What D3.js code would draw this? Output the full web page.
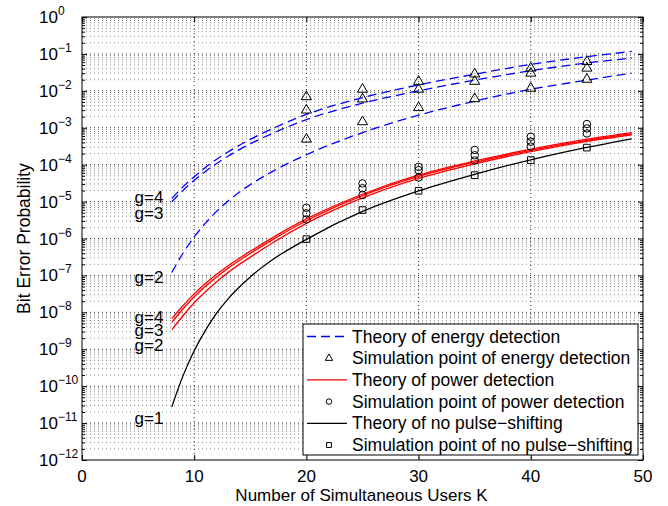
<!DOCTYPE html>
<html>
<head>
<meta charset="utf-8">
<script src="https://cdn.jsdelivr.net/npm/d3@7"></script>
<style>
  body { margin: 0; background: #fff; }
  svg { font-family: "Liberation Sans", Arial, sans-serif; }
</style>
</head>
<body>
<div id="chart"></div>
<script>
// theory curves, sampled at these K
const K = [8, 9, 10, 11, 12, 13, 15, 17, 20, 25, 30, 35, 40, 45, 49];
const energyG4 = [1.22e-5, 2.5e-5, 4.73e-5, 8.37e-5, 1.4e-4, 2.2e-4, 4.84e-4, 9.55e-4, 2.29e-3, 6.53e-3, 1.45e-2, 2.82e-2, 5.19e-2, 8.41e-2, 0.117];
const energyG3 = [9.9e-6, 2.0e-5, 3.76e-5, 6.57e-5, 1.08e-4, 1.69e-4, 3.67e-4, 7.08e-4, 1.66e-3, 4.62e-3, 1.0e-2, 1.95e-2, 3.5e-2, 5.69e-2, 7.76e-2];
const energyG2 = [1.2e-7, 3.98e-7, 1.1e-6, 2.6e-6, 5.43e-6, 1.02e-5, 2.88e-5, 6.6e-5, 1.86e-4, 7.4e-4, 2.19e-3, 5.25e-3, 1.1e-2, 1.95e-2, 3.02e-2];
const powerG4 = [6.76e-9, 1.51e-8, 3.16e-8, 6.0e-8, 1.07e-7, 1.8e-7, 4.52e-7, 1.06e-6, 3.39e-6, 1.58e-5, 5.25e-5, 1.26e-4, 2.63e-4, 4.9e-4, 7.4e-4];
const powerG3 = [5.37e-9, 1.23e-8, 2.63e-8, 5.07e-8, 9.1e-8, 1.55e-7, 3.94e-7, 9.3e-7, 3.02e-6, 1.45e-5, 4.79e-5, 1.16e-4, 2.45e-4, 4.57e-4, 6.9e-4];
const powerG2 = [3.39e-9, 8.1e-9, 1.82e-8, 3.63e-8, 6.76e-8, 1.19e-7, 3.13e-7, 7.7e-7, 2.57e-6, 1.26e-5, 4.27e-5, 1.05e-4, 2.24e-4, 4.27e-4, 6.46e-4];
const noShift = [2.75e-11, 1.9e-10, 9.1e-10, 3.24e-9, 9.5e-9, 2.29e-8, 9.1e-8, 2.69e-7, 9.5e-7, 5.4e-6, 1.95e-5, 5.5e-5, 1.35e-4, 2.92e-4, 5.0e-4];

// simulation points
const simK = [20, 25, 30, 35, 40, 45];
const simEnergyG4 = [6.9e-3, 1.1e-2, 1.8e-2, 2.85e-2, 4.1e-2, 6.2e-2];
const simEnergyG3 = [3.0e-3, 6.0e-3, 1.1e-2, 1.8e-2, 3.0e-2, 4.1e-2];
const simEnergyG2 = [4.9e-4, 1.45e-3, 3.5e-3, 6.1e-3, 1.17e-2, 2.05e-2];
const simPowerG4 = [6.8e-6, 3.1e-5, 8.7e-5, 2.5e-4, 5.7e-4, 1.26e-3];
const simPowerG3 = [4.8e-6, 2.3e-5, 7.1e-5, 1.8e-4, 4.2e-4, 9.6e-4];
const simPowerG2 = [3.3e-6, 1.5e-5, 4.5e-5, 1.3e-4, 3.1e-4, 7.0e-4];
const simNoShift = [9.6e-7, 5.9e-6, 1.96e-5, 5.2e-5, 1.33e-4, 2.9e-4];

// g labels at the left end of the curves
const gLabels = ["g=4", "g=3", "g=2", "g=4", "g=3", "g=2", "g=1"];
const gLabelAt = [1.35e-5, 4.9e-6, 9.1e-8, 7.6e-9, 3.3e-9, 1.29e-9, 1.35e-11];

const xTicks = [0, 10, 20, 30, 40, 50];
const yExp = d3.range(-12, 1);

const legendLabels = [
  "Theory of energy detection",
  "Simulation point of energy detection",
  "Theory of power detection",
  "Simulation point of power detection",
  "Theory of no pulse\u2212shifting",
  "Simulation point of no pulse\u2212shifting"
];

const margin = {top: 17, right: 25, bottom: 46, left: 82},
    width = 668 - margin.left - margin.right,
    height = 506 - margin.top - margin.bottom;

const svg = d3.select("#chart")
  .append("svg")
    .attr("width", 668)
    .attr("height", 506)
  .append("g")
    .attr("transform", `translate(${margin.left}, ${margin.top})`);

const x = d3.scaleLinear().domain([0, 50]).range([0, width]);
const y = d3.scaleLog().domain([1e-12, 1]).range([height, 0]);

// grid
const minorVals = [];
yExp.slice(0, -1).forEach(e => { for (let k = 2; k <= 9; k++) minorVals.push(k * Math.pow(10, e)); });

svg.append("g").selectAll("line")
  .data(minorVals)
  .join("line")
    .attr("x1", 0).attr("x2", width)
    .attr("y1", d => y(d)).attr("y2", d => y(d))
    .attr("stroke", "#8a8a8a")
    .attr("stroke-dasharray", "1,3");

svg.append("g").selectAll("line")
  .data(yExp.slice(1, -1))
  .join("line")
    .attr("x1", 0).attr("x2", width)
    .attr("y1", d => y(Math.pow(10, d))).attr("y2", d => y(Math.pow(10, d)))
    .attr("stroke", "#333")
    .attr("stroke-dasharray", "1,3");

svg.append("g").selectAll("line")
  .data(xTicks.slice(1, -1))
  .join("line")
    .attr("x1", d => x(d)).attr("x2", d => x(d))
    .attr("y1", 0).attr("y2", height)
    .attr("stroke", "#333")
    .attr("stroke-dasharray", "1,3");

// ticks (inside, both sides)
function tickAxis(axis, tr) {
  const g = svg.append("g").attr("transform", tr).call(axis);
  g.select(".domain").remove();
  g.selectAll("line").attr("stroke", "#000");
  return g;
}
const majorY = yExp.map(e => Math.pow(10, e));
tickAxis(d3.axisLeft(y).tickValues(majorY).tickSizeInner(-5).tickSizeOuter(0).tickFormat(""), "translate(0,0)");
tickAxis(d3.axisLeft(y).tickValues(minorVals).tickSizeInner(-3).tickSizeOuter(0).tickFormat(""), "translate(0,0)");
tickAxis(d3.axisRight(y).tickValues(majorY).tickSizeInner(-5).tickSizeOuter(0).tickFormat(""), `translate(${width},0)`);
tickAxis(d3.axisRight(y).tickValues(minorVals).tickSizeInner(-3).tickSizeOuter(0).tickFormat(""), `translate(${width},0)`);
tickAxis(d3.axisBottom(x).tickValues(xTicks).tickSizeInner(-5).tickSizeOuter(0).tickFormat(""), `translate(0,${height})`);
tickAxis(d3.axisTop(x).tickValues(xTicks).tickSizeInner(-5).tickSizeOuter(0).tickFormat(""), "translate(0,0)");

// tick labels
svg.append("g").selectAll("text")
  .data(xTicks)
  .join("text")
    .attr("x", d => x(d))
    .attr("y", height + 22)
    .attr("text-anchor", "middle")
    .attr("font-size", 17)
    .text(d => d);

const yl = svg.append("g").selectAll("text")
  .data(yExp)
  .join("text")
    .attr("x", -43)
    .attr("y", d => y(Math.pow(10, d)) + 6)
    .attr("font-size", 17);
yl.append("tspan").text("10");
yl.append("tspan")
    .attr("dy", -8)
    .attr("font-size", 12)
    .text(d => d < 0 ? "\u2212" + (-d) : d);

// axis titles
svg.append("text")
  .attr("x", width / 2 - 1)
  .attr("y", height + 41)
  .attr("text-anchor", "middle")
  .attr("font-size", 17)
  .text("Number of Simultaneous Users K");

svg.append("text")
  .attr("transform", `translate(${-margin.left + 30}, ${height / 2}) rotate(-90)`)
  .attr("text-anchor", "middle")
  .attr("font-size", 17.5)
  .text("Bit Error Probability");

// theory curves
const line = d3.line()
  .x((d, i) => x(K[i]))
  .y(d => y(d))
  .curve(d3.curveMonotoneX);

[energyG4, energyG3, energyG2].forEach(s => {
  svg.append("path").attr("d", line(s))
    .attr("fill", "none").attr("stroke", "#0000ff")
    .attr("stroke-width", 1.3).attr("stroke-dasharray", "9,5");
});
[powerG4, powerG3, powerG2].forEach(s => {
  svg.append("path").attr("d", line(s))
    .attr("fill", "none").attr("stroke", "#ff0000").attr("stroke-width", 1.3);
});
svg.append("path").attr("d", line(noShift))
  .attr("fill", "none").attr("stroke", "#000").attr("stroke-width", 1.3);

// markers
const tri = d3.symbol().type(d3.symbolTriangle).size(44);
const circ = d3.symbol().type(d3.symbolCircle).size(44);
const sq = d3.symbol().type(d3.symbolSquare).size(44);

function markers(vals, sym) {
  svg.append("g").selectAll("path")
    .data(vals)
    .join("path")
      .attr("transform", (d, i) => `translate(${x(simK[i])},${y(d)})`)
      .attr("d", sym)
      .attr("fill", "none")
      .attr("stroke", "#000")
      .attr("stroke-width", 1);
}
[simEnergyG4, simEnergyG3, simEnergyG2].forEach(s => markers(s, tri));
[simPowerG4, simPowerG3, simPowerG2].forEach(s => markers(s, circ));
markers(simNoShift, sq);

// g labels
svg.append("g").selectAll("text")
  .data(gLabels)
  .join("text")
    .attr("x", x(7.25))
    .attr("y", (d, i) => y(gLabelAt[i]))
    .attr("dy", "0.35em")
    .attr("text-anchor", "end")
    .attr("font-size", 17)
    .text(d => d);

// frame
svg.append("rect")
  .attr("width", width).attr("height", height)
  .attr("fill", "none").attr("stroke", "#000").attr("stroke-width", 1);

// legend
const lg = svg.append("g").attr("transform", `translate(${x(0) + 221},${307})`);
lg.append("rect")
  .attr("width", 335).attr("height", 131)
  .attr("fill", "#fff").attr("stroke", "#000");

const rows = lg.selectAll("g.row")
  .data(legendLabels)
  .join("g")
    .attr("class", "row")
    .attr("transform", (d, i) => `translate(0,${12.5 + i * 21.7})`);

rows.append("text")
  .attr("x", 49)
  .attr("dy", "0.35em")
  .attr("font-size", 17.5)
  .text(d => d);

const triS = d3.symbol().type(d3.symbolTriangle).size(24);
const circS = d3.symbol().type(d3.symbolCircle).size(24);
const sqS = d3.symbol().type(d3.symbolSquare).size(24);
const styles = [
  {stroke: "#0000ff", dash: "9,5"}, {sym: triS},
  {stroke: "#ff0000"}, {sym: circS},
  {stroke: "#000"}, {sym: sqS}
];
rows.each(function(d, i) {
  const s = styles[i], r = d3.select(this);
  if (s.sym) {
    r.append("path").attr("transform", "translate(26,0)")
      .attr("d", s.sym).attr("fill", "none").attr("stroke", "#000");
  } else {
    r.append("line").attr("x1", 4).attr("x2", 44)
      .attr("stroke", s.stroke).attr("stroke-width", 1.3)
      .attr("stroke-dasharray", s.dash || null);
  }
});
</script>
</body>
</html>
